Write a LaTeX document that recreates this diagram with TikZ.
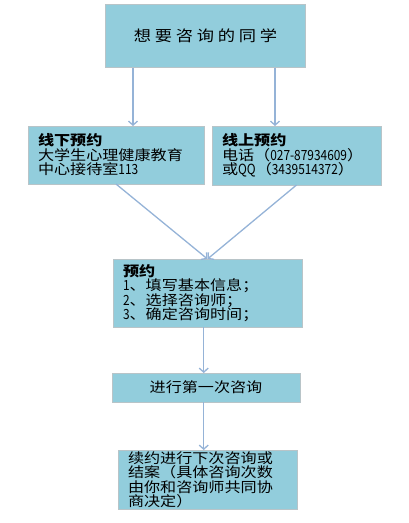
\documentclass[tikz,border=0pt]{standalone}
\usepackage{fontspec}
\setmainfont{Noto Sans CJK SC}[FakeStretch=1.15]
\newfontfamily\numfont{Noto Sans CJK SC}[FakeStretch=0.85]
\usepackage{tikz}
\usetikzlibrary{calc,arrows.meta}
\definecolor{boxfill}{HTML}{92CDDC}
\definecolor{boxline}{HTML}{B8C4C8}
\definecolor{arrline}{HTML}{95B3D7}

\begin{document}
\begin{tikzpicture}[x=1pt, y=-1pt,
  box/.style={draw=boxline, line width=0.7pt, fill=boxfill, anchor=north west, outer sep=0pt,
    inner xsep=10pt, inner ysep=2pt, align=left, font=\fontsize{14}{14.5}\selectfont},
  arr/.style={draw=arrline, line width=1.3pt, -{Straight Barb[length=4pt, width=9pt]}}]
  \useasboundingbox (0,0) rectangle (408,523);

  % top
  \node[box, minimum width=200pt, minimum height=63pt, align=center,
    font=\fontsize{15}{18}\selectfont\addfontfeature{LetterSpace=25}] (student) at (105.5,4.5) {想要咨询的同学};

  % two ways to book
  \node[box, text width=156pt, minimum height=58pt] (offline) at (28,126)
    {\textbf{线下预约}\\大学生心理健康教育\\中心接待室{\numfont 113}};
  \node[box, text width=149pt, minimum height=59pt] (online) at (212,126)
    {\textbf{线上预约}\\电话（{\numfont 027-87934609}）\\或{\numfont QQ}（{\numfont 3439514372}）};

  \coordinate (t1) at ($(student.south west)!.1375!(student.south east)$);
  \coordinate (t2) at ($(student.south west)!.8475!(student.south east)$);
  \draw[arr] (t1) -- (t1 |- offline.north);
  \draw[arr] (t2) -- (t2 |- online.north);

  % booking steps
  \node[box, text width=169pt, minimum height=68pt] (booking) at (113,259)
    {\textbf{预约}\\{\numfont 1}、填写基本信息；\\{\numfont 2}、选择咨询师；\\{\numfont 3}、确定咨询时间；};
  \draw[arr] (offline.south) -- (booking.north);
  \draw[arr] (online.south) -- (booking.north);

  \node[box, minimum width=188pt, minimum height=29pt, align=center] (first) at (112,373) {进行第一次咨询};
  \coordinate (m1) at ($(booking.south west)!.48!(booking.south east)$);
  \draw[arr] (m1) -- (m1 |- first.north);

  \node[box, text width=159pt, minimum height=58pt, font=\fontsize{14}{14.2}\selectfont] (next) at (118,450)
    {续约进行下次咨询或\\结案（具体咨询次数\\由你和咨询师共同协\\商决定）};
  \draw[arr] (m1 |- first.south) -- (m1 |- next.north);
\end{tikzpicture}
\end{document}
